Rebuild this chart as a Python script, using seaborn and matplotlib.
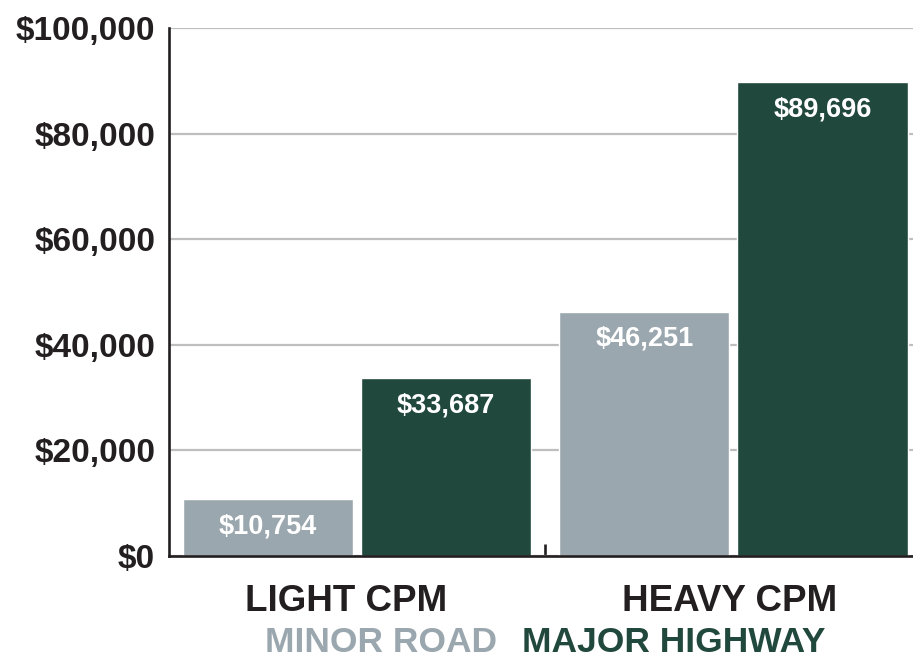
import matplotlib
matplotlib.use("Agg")
import matplotlib.pyplot as plt
import matplotlib.transforms as mtransforms
import seaborn as sns
import pandas as pd

categories = ["LIGHT CPM", "HEAVY CPM"]
series_names = ["MINOR ROAD", "MAJOR HIGHWAY"]
minor_road = [10754, 46251]
major_highway = [33687, 89696]
y_ticks = [0, 20000, 40000, 60000, 80000, 100000]
y_tick_labels = ["$0", "$20,000", "$40,000", "$60,000", "$80,000", "$100,000"]

gray = "#9BA7AE"
green = "#21483C"
dark = "#231F20"

df = pd.DataFrame({
    "category": categories * 2,
    "road": [series_names[0]] * 2 + [series_names[1]] * 2,
    "value": minor_road + major_highway,
})

sns.set_theme(style="white")
plt.rcParams["font.family"] = ["Liberation Sans", "DejaVu Sans"]

fig = plt.figure(figsize=(9.13, 6.6), dpi=100)
ax = fig.add_axes([169 / 913, 1 - 556 / 660, 1 - 169 / 913, (556 - 28) / 660])

sns.barplot(data=df, x="category", y="value", hue="road", order=categories,
            hue_order=series_names, palette=[gray, green], saturation=1,
            width=0.946, gap=0.045, errorbar=None, legend=False, ax=ax,
            zorder=2)

ax.set_xlim(-0.4993, 1.4768)
ax.set_ylim(0, 100000)
ax.set_yticks(y_ticks)
ax.set_yticklabels(y_tick_labels)
ax.set_xlabel("")
ax.set_ylabel("")

ax.yaxis.grid(True, color="#BEBEBE", linewidth=1.6, zorder=0)
ax.set_axisbelow(True)

for side in ["top", "right"]:
    ax.spines[side].set_visible(False)
for side in ["left", "bottom"]:
    ax.spines[side].set_color(dark)
    ax.spines[side].set_linewidth(1.9)
    ax.spines[side].set_zorder(3)

ax.tick_params(axis="y", length=0, pad=10, labelsize=24, labelcolor=dark)
ax.tick_params(axis="x", which="major", length=0, pad=20, labelsize=26.5, labelcolor=dark)
for lab in ax.get_yticklabels():
    lab.set_fontweight("bold")
x_label_shift_px = [-11, -4]
for lab, dx in zip(ax.get_xticklabels(), x_label_shift_px):
    lab.set_fontweight("bold")
    lab.set_transform(lab.get_transform() +
                      mtransforms.ScaledTranslation(dx / 100, 0, fig.dpi_scale_trans))

ax.set_xticks([0.5], minor=True)
ax.tick_params(axis="x", which="minor", bottom=True, direction="in",
               length=8.6, width=1.9, color=dark)

for cont in ax.containers:
    texts = ax.bar_label(cont, labels=[f"${v:,.0f}" for v in cont.datavalues],
                         label_type="edge", padding=-19.5, color="white",
                         fontsize=19.5, fontweight="bold")
    for t in texts:
        t.set_va("center")

fig.text(497 / 913, 1 - 652 / 660, series_names[0], ha="right", va="baseline",
         color=gray, fontsize=25.5, fontweight="bold")
fig.text(522 / 913, 1 - 652 / 660, series_names[1], ha="left", va="baseline",
         color=green, fontsize=25.5, fontweight="bold")

fig.savefig("out.png", dpi=100)
